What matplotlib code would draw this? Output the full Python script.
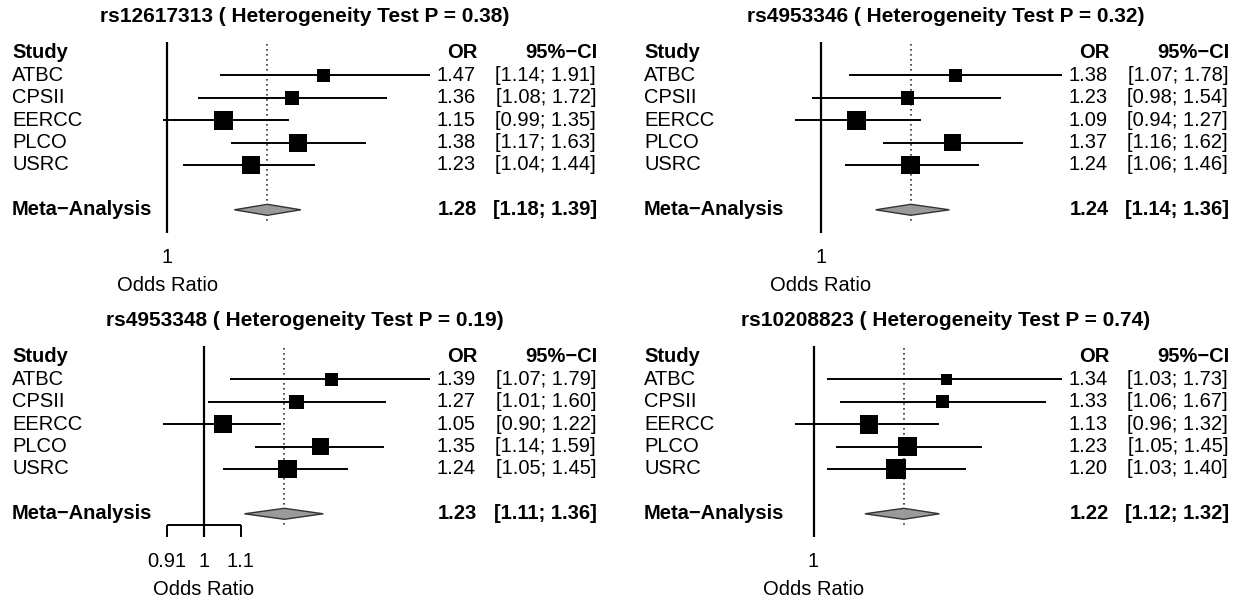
import matplotlib
matplotlib.use("Agg")
import matplotlib.pyplot as plt
import numpy as np
from matplotlib.transforms import blended_transform_factory
from matplotlib.patches import Polygon

plt.rcParams['font.family'] = ['Liberation Sans', 'DejaVu Sans']

# ---------------- data ----------------
studies = ['ATBC', 'CPSII', 'EERCC', 'PLCO', 'USRC']
snps = ['rs12617313', 'rs4953346', 'rs4953348', 'rs10208823']
het_p = [0.38, 0.32, 0.19, 0.74]

or_rs12617313 = [1.47, 1.36, 1.15, 1.38, 1.23]
lo_rs12617313 = [1.14, 1.08, 0.99, 1.17, 1.04]
hi_rs12617313 = [1.91, 1.72, 1.35, 1.63, 1.44]
w_rs12617313 = [12.3, 14.3, 26.3, 23.6, 23.6]
meta_rs12617313 = [1.28, 1.18, 1.39]

or_rs4953346 = [1.38, 1.23, 1.09, 1.37, 1.24]
lo_rs4953346 = [1.07, 0.98, 0.94, 1.16, 1.06]
hi_rs4953346 = [1.78, 1.54, 1.27, 1.62, 1.46]
w_rs4953346 = [11.8, 13.8, 26.0, 22.5, 26.0]
meta_rs4953346 = [1.24, 1.14, 1.36]

or_rs4953348 = [1.39, 1.27, 1.05, 1.35, 1.24]
lo_rs4953348 = [1.07, 1.01, 0.90, 1.14, 1.05]
hi_rs4953348 = [1.79, 1.60, 1.22, 1.59, 1.45]
w_rs4953348 = [12.8, 15.5, 23.6, 22.6, 25.6]
meta_rs4953348 = [1.23, 1.11, 1.36]

or_rs10208823 = [1.34, 1.33, 1.13, 1.23, 1.20]
lo_rs10208823 = [1.03, 1.06, 0.96, 1.05, 1.03]
hi_rs10208823 = [1.73, 1.67, 1.32, 1.45, 1.40]
w_rs10208823 = [8.6, 12.0, 25.6, 25.6, 28.3]
meta_rs10208823 = [1.22, 1.12, 1.32]

ticks = [[1], [1], [0.91, 1, 1.1], [1]]
tick_labels = [['1'], ['1'], ['0.91', '1', '1.1'], ['1']]

panel_data = [
    (or_rs12617313, lo_rs12617313, hi_rs12617313, w_rs12617313, meta_rs12617313),
    (or_rs4953346, lo_rs4953346, hi_rs4953346, w_rs4953346, meta_rs4953346),
    (or_rs4953348, lo_rs4953348, hi_rs4953348, w_rs4953348, meta_rs4953348),
    (or_rs10208823, lo_rs10208823, hi_rs10208823, w_rs10208823, meta_rs10208823),
]

# ---------------- layout ----------------
W, H = 1238, 602
DPI = 100
fig = plt.figure(figsize=(W / DPI, H / DPI), dpi=DPI)

ROW = 22.4          # pixels per row
FS = 14.5
MINUS = '\u2212'

xoffs = [0, 632, 0, 632]
yoffs = [0, 0, 304, 304]
title_x = [305, 946, 305, 946]

for k in range(4):
    ors, los, his, ws, meta = panel_data[k]
    xo, yo = xoffs[k], yoffs[k]
    header_px = 53 + yo
    top_px = yo
    bot_px = min(yo + 298, H)
    left_px = 163 + xo
    width_px = 267

    ax = fig.add_axes([left_px / W, 1 - bot_px / H, width_px / W, (bot_px - top_px) / H])
    ax.set_xscale('log')
    ax.set_xlim(min(los + [meta[1]]), max(his + [meta[2]]))
    ax.set_ylim((bot_px - header_px) / ROW, (top_px - header_px) / ROW)
    ax.axis('off')

    tr = blended_transform_factory(fig.transFigure, ax.transData)
    fx = lambda px: px / W

    # title
    ax.text(fx(title_x[k]), -1.61, f"{snps[k]} ( Heterogeneity Test P = {het_p[k]:.2f})",
            transform=tr, ha='center', va='center', fontsize=15, fontweight='bold')

    # headers
    ax.text(fx(12 + xo), 0, 'Study', transform=tr, ha='left', va='center',
            fontsize=FS, fontweight='bold')
    ax.text(fx(477 + xo), 0, 'OR', transform=tr, ha='right', va='center',
            fontsize=FS, fontweight='bold')
    ax.text(fx(597 + xo), 0, '95%' + MINUS + 'CI', transform=tr, ha='right', va='center',
            fontsize=FS, fontweight='bold')

    rows = np.arange(1, len(studies) + 1)
    for i, s in enumerate(studies):
        r = rows[i]
        ax.text(fx(12 + xo), r, s, transform=tr, ha='left', va='center', fontsize=FS)
        ax.text(fx(476 + xo), r, f"{ors[i]:.2f}", transform=tr, ha='right', va='center', fontsize=FS)
        ax.text(fx(596 + xo), r, f"[{los[i]:.2f}; {his[i]:.2f}]", transform=tr,
                ha='right', va='center', fontsize=FS)
        ax.plot([los[i], his[i]], [r, r], color='black', lw=1.4, clip_on=False,
                solid_capstyle='butt', zorder=3)
    side_pt = 3.7 * np.sqrt(np.array(ws)) * 72 / DPI
    ax.scatter(ors, rows, marker='s', s=side_pt ** 2, color='black', linewidths=0,
               zorder=4, clip_on=False)

    meta_row = len(studies) + 2
    ax.text(fx(12 + xo), meta_row, 'Meta' + MINUS + 'Analysis', transform=tr, ha='left',
            va='center', fontsize=FS, fontweight='bold')
    ax.text(fx(477 + xo), meta_row, f"{meta[0]:.2f}", transform=tr, ha='right', va='center',
            fontsize=FS, fontweight='bold')
    ax.text(fx(597 + xo), meta_row, f"[{meta[1]:.2f}; {meta[2]:.2f}]", transform=tr,
            ha='right', va='center', fontsize=FS, fontweight='bold')
    hh = 5.5 / ROW
    diamond = Polygon([(meta[1], meta_row), (meta[0], meta_row - hh), (meta[2], meta_row),
                       (meta[0], meta_row + hh)], closed=True, facecolor='#9a9a9a',
                      edgecolor='#333333', lw=1.0, zorder=3, clip_on=False)
    ax.add_patch(diamond)

    # reference line at 1 and dotted line at pooled estimate
    axis_row = meta_row + 0.5
    tick_end = axis_row + 12 / ROW
    ax.plot([1, 1], [-0.5, tick_end], color='black', lw=1.6, clip_on=False, zorder=2,
            solid_capstyle='butt')
    ax.plot([meta[0], meta[0]], [-0.4, axis_row + 0.1], color='#333333', lw=1.2,
            linestyle=(0, (1, 2)), clip_on=False, zorder=2)

    # x axis
    tk = ticks[k]
    if len(tk) > 1:
        ax.plot([min(tk), max(tk)], [axis_row, axis_row], color='black', lw=1.4,
                clip_on=False, solid_capstyle='butt')
    for t, lab in zip(tk, tick_labels[k]):
        ax.plot([t, t], [axis_row, tick_end], color='black', lw=1.4, clip_on=False,
                solid_capstyle='butt')
        ax.text(t, axis_row + 1.64, lab, ha='center', va='center', fontsize=FS)
    ax.text(1, axis_row + 2.9, 'Odds Ratio', ha='center', va='center', fontsize=FS)

fig.savefig('out.png', dpi=DPI, facecolor='white')
